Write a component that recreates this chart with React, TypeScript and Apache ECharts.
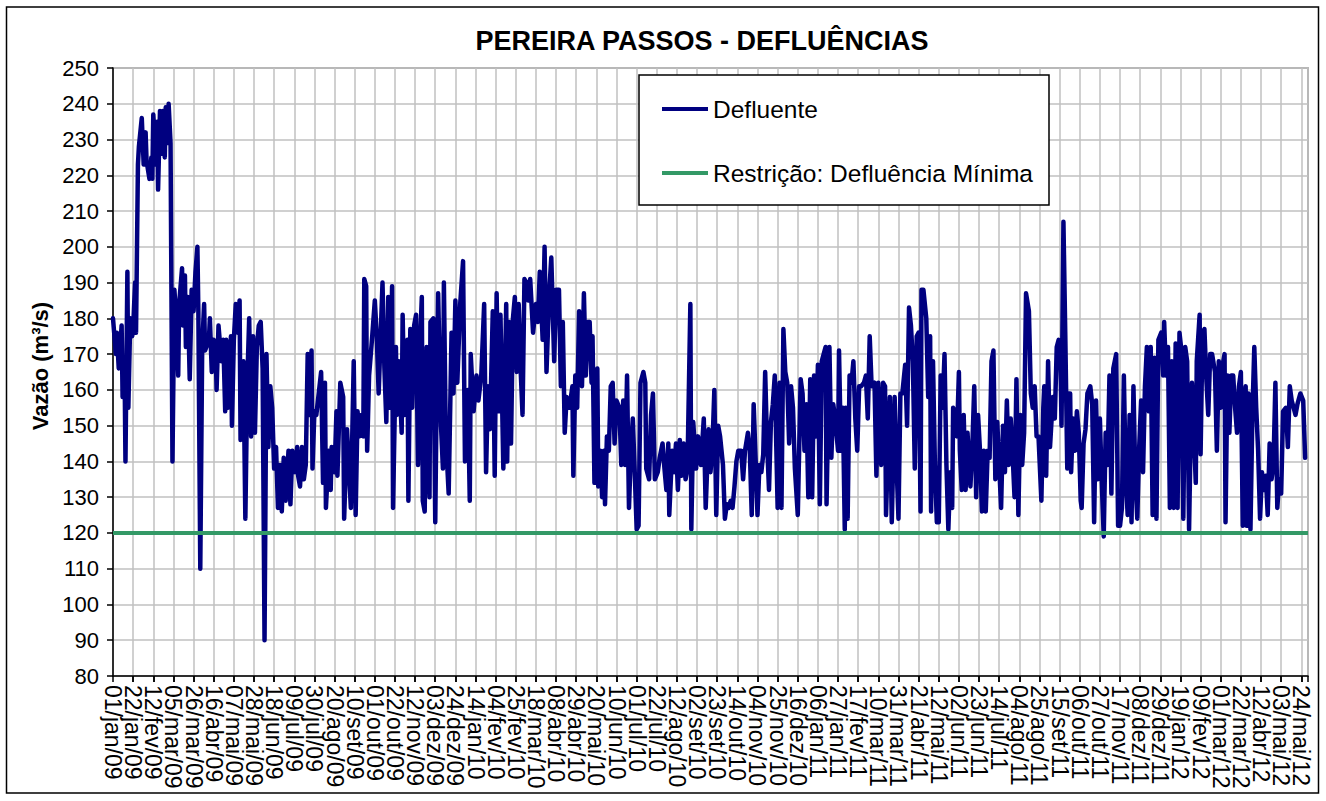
import React, { useEffect, useRef } from "react";
import * as echarts from "echarts";

// ---- Axis / categories ----
const tickLabels = [
  "01/jan/09", "22/jan/09", "12/fev/09", "05/mar/09", "26/mar/09", "16/abr/09", "07/mai/09", "28/mai/09",
  "18/jun/09", "09/jul/09", "30/jul/09", "20/ago/09", "10/set/09", "01/out/09", "22/out/09", "12/nov/09",
  "03/dez/09", "24/dez/09", "14/jan/10", "04/fev/10", "25/fev/10", "18/mar/10", "08/abr/10", "29/abr/10",
  "20/mai/10", "10/jun/10", "01/jul/10", "22/jul/10", "12/ago/10", "02/set/10", "23/set/10", "14/out/10",
  "04/nov/10", "25/nov/10", "16/dez/10", "06/jan/11", "27/jan/11", "17/fev/11", "10/mar/11", "31/mar/11",
  "21/abr/11", "12/mai/11", "02/jun/11", "23/jun/11", "14/jul/11", "04/ago/11", "25/ago/11", "15/set/11",
  "06/out/11", "27/out/11", "17/nov/11", "08/dez/11", "29/dez/11", "19/jan/12", "09/fev/12", "01/mar/12",
  "22/mar/12", "12/abr/12", "03/mai/12", "24/mai/12",
];
const tickStepDays = 21; // one label every 21 days
const lastDay = 1246; // 31/mai/12, days counted from 01/jan/09

// ---- Series: Defluente (day index since 01/jan/09, value in m³/s) ----
const flowDays = [
  0, 3, 4, 6, 9, 10, 12, 13, 15, 16, 18, 20, 21, 23, 24, 26, 27, 30, 32, 34, 35, 38, 40, 41, 42, 45, 46, 47, 49, 51,
  52, 54, 55, 57, 58, 60, 62, 64, 66, 68, 69, 72, 73, 75, 76, 78, 80, 82, 84, 86, 88, 89, 91, 93, 95, 96, 100, 101, 103, 105,
  107, 108, 110, 113, 115, 117,
  118, 120, 121, 123, 124, 126, 128, 130, 132, 133, 136, 138, 140, 142, 144, 146, 148, 150, 152, 154, 156, 158, 160, 162,
  164, 166, 168, 170, 172, 174, 176, 178, 180, 183, 185, 187, 190, 192, 193, 195, 197, 199, 201, 203, 205, 207, 208, 210,
  212, 217, 219, 221, 222, 225, 227, 228, 231, 233, 234, 237,
  240, 241, 244, 248, 251, 253, 255, 257, 259, 261, 262, 264, 265, 267, 270, 273, 275, 277, 281, 283, 285, 287, 289, 291,
  292, 295, 296, 298, 301, 302, 304, 307, 308, 310, 312, 314, 316, 318, 320, 322, 323, 325, 327, 330, 331, 334, 336, 337,
  339, 342, 344, 345, 347, 350, 353, 355, 357, 359, 362, 365, 367, 370, 372, 373,
  376, 379, 381, 384, 387, 389, 391, 393, 396, 398, 400, 402, 404, 407, 410, 411, 413, 415, 417, 419, 421, 423, 425, 427,
  429, 431, 433, 435, 438, 441, 443, 445, 448, 450, 452, 455, 457, 460, 462, 465, 467, 469, 471, 473, 476, 479, 480, 482,
  484, 486, 489, 491, 493, 495,
  497, 499, 500, 502, 505, 506, 508, 510, 512, 513, 515, 517, 519, 521, 523, 525, 528, 530, 532, 534, 536, 538, 540, 542,
  544, 546, 548, 550, 553, 555, 556, 559, 561, 563, 565, 568, 570, 573, 575, 577, 579, 580, 583, 585, 587, 589, 591, 593,
  595, 597, 599, 602, 603, 605, 608, 610, 613, 616, 618,
  621, 623, 625, 627, 629, 631, 633, 636, 638, 640, 642, 644, 646, 648, 650, 652, 655, 657, 659, 662, 664, 666, 668, 670,
  672, 674, 676, 678, 680, 682, 684, 686, 688, 690, 693, 695, 697, 699, 701, 703, 705, 707, 709, 711, 714, 717, 719, 721,
  723, 725, 727, 729, 731, 733, 735, 737, 739, 741,
  743, 744, 746, 747, 749, 751, 753, 756, 757, 759, 761, 763, 764, 766, 768, 770, 772, 774, 776, 778, 780, 783, 785, 787,
  789, 791, 794, 796, 798, 801, 803, 805, 806, 808, 810, 812, 815, 817, 819, 821, 823, 826, 828, 830, 832, 834, 836, 838,
  840, 842, 843, 845, 848, 850, 852, 853, 855, 857, 859, 861, 863, 865,
  867, 869, 871, 873, 875, 876, 878, 880, 882, 883, 885, 887, 889, 891, 894, 896, 898, 900, 902, 904, 906, 908, 910, 912,
  914, 916, 918, 920, 922, 924, 926, 928, 930, 932, 934, 936, 938, 940, 942, 944, 946, 948, 950, 952, 955, 957, 959, 961,
  963, 965, 968, 970, 971, 973, 975, 977, 980, 982, 984, 986, 988, 989, 991, 993, 995, 996,
  998, 999, 1001, 1003, 1005, 1007, 1009, 1010, 1012, 1014, 1016, 1019, 1021, 1023, 1025, 1027, 1029, 1031, 1033, 1035,
  1037, 1039, 1041, 1043, 1046, 1048, 1050, 1052, 1054, 1056, 1058, 1060, 1062, 1064, 1066, 1068, 1070, 1072, 1074, 1076,
  1078, 1080, 1082, 1084, 1086, 1088, 1090, 1093, 1095, 1096, 1098, 1100, 1102, 1104, 1106, 1108, 1110, 1112, 1114, 1116,
  1118, 1120, 1122, 1124, 1125, 1127, 1129, 1130, 1133, 1134, 1136, 1138, 1140, 1142, 1144, 1146, 1149, 1151, 1153, 1155,
  1157, 1159, 1160, 1162, 1164, 1166, 1168, 1170, 1172, 1174, 1176, 1178, 1179, 1181, 1182, 1184, 1186, 1188, 1190, 1192,
  1194, 1196, 1198, 1200, 1202, 1204, 1206, 1208, 1210, 1212, 1214, 1216, 1218, 1220, 1223, 1225, 1227, 1229, 1231, 1233,
  1235, 1238, 1241, 1243,
];
const flowValues = [
  180, 170, 176, 166, 178, 158, 168, 140, 193, 155, 180, 175, 177, 190, 176, 223, 228, 236, 223, 232, 224, 219, 225, 219, 237, 223, 235, 216, 238, 226,
  238, 225, 239, 229, 240, 229, 140, 188, 180, 164, 184, 194, 178, 192, 172, 186, 163, 188, 182, 193, 200, 182, 110, 172, 184, 171, 174, 180, 165, 174,
  172, 160, 178, 168, 174, 154,
  174, 155, 166, 175, 150, 174, 184, 176, 185, 146, 168, 124, 162, 180, 147, 175, 148, 172, 178, 179, 166, 90, 170, 144,
  161, 155, 138, 144, 127, 139, 126, 141, 129, 143, 128, 143, 137, 144, 136, 133, 144, 135, 139, 170, 153, 171, 138, 154,
  153, 165, 134, 162, 127, 143, 132, 144, 137, 154, 136, 162,
  158, 124, 149, 127, 168, 125, 154, 147, 153, 147, 191, 189, 143, 164, 174, 185, 175, 159, 190, 166, 151, 186, 155, 189,
  127, 172, 153, 168, 148, 181, 153, 174, 129, 177, 155, 178, 181, 139, 172, 186, 129, 126, 172, 130, 179, 180, 123, 147,
  187, 150, 138, 190, 147, 131, 176, 159, 185, 162, 184, 196, 140, 160, 129, 170,
  154, 164, 157, 164, 184, 137, 161, 149, 182, 136, 187, 154, 181, 138, 184, 140, 179, 145, 180, 186, 165, 184, 166, 153,
  191, 190, 185, 191, 176, 184, 179, 193, 174, 200, 165, 188, 197, 168, 188, 188, 161, 179, 148, 158, 155, 161, 136, 164,
  155, 182, 161, 187, 164, 179,
  179, 162, 175, 134, 166, 133, 143, 130, 143, 128, 147, 143, 161, 162, 145, 157, 155, 139, 157, 139, 164, 127, 143, 152,
  137, 121, 122, 162, 165, 162, 138, 135, 153, 159, 135, 137, 141, 145, 138, 132, 145, 125, 143, 137, 145, 132, 146, 136,
  145, 135, 138, 184, 121, 151, 138, 147, 139, 152, 127,
  149, 137, 144, 160, 125, 150, 147, 139, 124, 128, 127, 129, 127, 133, 140, 143, 143, 135, 143, 148, 143, 125, 156, 141,
  125, 139, 137, 142, 165, 145, 132, 151, 156, 164, 127, 162, 127, 177, 165, 162, 145, 161, 155, 138, 125, 163, 159, 143,
  156, 130, 163, 130, 164, 147, 167, 128, 168, 170,
  172, 128, 158, 172, 141, 156, 152, 143, 171, 143, 155, 121, 155, 124, 164, 162, 168, 152, 143, 161, 161, 162, 164, 152,
  175, 161, 162, 136, 162, 139, 162, 161, 125, 143, 158, 123, 158, 139, 124, 159, 159, 167, 150, 183, 178, 168, 138, 175,
  176, 126, 188, 188, 180, 158, 175, 126, 168, 139, 123, 123, 164, 155,
  170, 139, 121, 137, 127, 155, 154, 147, 165, 143, 132, 153, 132, 148, 133, 144, 161, 130, 153, 143, 126, 143, 126, 143,
  141, 168, 171, 135, 151, 139, 127, 150, 137, 157, 139, 152, 142, 130, 163, 125, 153, 139, 148, 187, 182, 159, 155, 161,
  147, 147, 129, 155, 161, 136, 168, 144, 158, 152, 172, 174, 167, 150, 207, 174, 138, 159,
  159, 137, 152, 143, 154, 148, 129, 127, 145, 149, 159, 161, 156, 123, 157, 135, 152, 134, 119, 148,
  139, 164, 131, 166, 170, 122, 122, 127, 164, 135, 125, 153, 123, 161, 135, 124, 144, 157, 137, 161,
  172, 154, 172, 125, 169, 124, 174, 176, 164, 179, 164, 172, 127, 168, 127, 173, 127, 176, 171, 124,
  172, 168, 121, 153, 162, 148, 134, 168, 181, 142, 176, 177, 163, 153, 170, 170, 165, 143, 168, 155,
  167, 170, 123, 164, 148, 164, 164, 155, 148, 161, 165, 122, 153, 161, 122, 159, 121, 153, 172, 155,
  143, 124, 137, 132, 136, 125, 145, 135, 139, 162, 127, 135, 131, 154, 155, 144, 161, 157, 155, 153,
  156, 159, 157, 141,
];

// ---- Series: restriction ----
const minRestrictionValue = 120;

const seriesNames = ["Defluente", "Restrição: Defluência Mínima"];
const titleText = "PEREIRA PASSOS - DEFLUÊNCIAS";
const yAxisTitle = "Vazão (m³/s)";

const FONT = "'Liberation Sans', Arial, sans-serif";

const labelText = (v: number) => {
  const i = Math.round(v / tickStepDays);
  return v % tickStepDays === 0 && i >= 0 && i < tickLabels.length ? tickLabels[i] : "";
};

export default function App() {
  const ref = useRef<HTMLDivElement>(null);

  useEffect(() => {
    if (!ref.current) return;
    const chart = echarts.init(ref.current, null, { renderer: "svg" });
    const flowData = flowDays.map((d, i) => [d, flowValues[i]]);
    const restrictionData = [
      [0, minRestrictionValue],
      [lastDay, minRestrictionValue],
    ];

    const labelStyle = {
      rotate: -90,
      margin: 9,
      fontSize: 23,
      color: "#000",
      fontFamily: FONT,
    };
    const tickStyle = { show: true, length: 6, lineStyle: { color: "#000", width: 1.5 } };

    chart.setOption({
      animation: false,
      backgroundColor: "#ffffff",
      textStyle: { fontFamily: FONT, color: "#000" },
      grid: {
        left: 113,
        top: 68,
        right: 18,
        bottom: 125,
        show: true,
        borderColor: "#808080",
        borderWidth: 1.5,
        backgroundColor: "transparent",
      },
      xAxis: [
        {
          // main date axis: all labels except the first one
          type: "value",
          position: "bottom",
          min: 0,
          max: lastDay,
          interval: tickStepDays,
          axisLine: { onZero: false, lineStyle: { color: "#000", width: 1.5 } },
          axisTick: tickStyle,
          axisLabel: {
            ...labelStyle,
            showMinLabel: false,
            showMaxLabel: true,
            formatter: (v: number) => (v === 0 ? "" : labelText(v)),
          },
          splitLine: { show: true, lineStyle: { color: "#c0c0c0", width: 1.5 } },
        },
        {
          // companion axis carrying only the first date label (01/jan/09)
          type: "value",
          position: "bottom",
          min: 0,
          max: lastDay,
          interval: tickStepDays,
          axisLine: { show: false, onZero: false },
          axisTick: tickStyle,
          axisLabel: {
            ...labelStyle,
            showMinLabel: true,
            showMaxLabel: false,
            formatter: (v: number) => (v === 0 ? labelText(v) : ""),
          },
          splitLine: { show: false },
        },
      ],
      yAxis: {
        type: "value",
        min: 80,
        max: 250,
        interval: 10,
        axisLine: { show: true, lineStyle: { color: "#000", width: 1.5 } },
        axisTick: tickStyle,
        axisLabel: { fontSize: 22, color: "#000", margin: 14, fontFamily: FONT },
        splitLine: { show: true, lineStyle: { color: "#c0c0c0", width: 1.5 } },
      },
      legend: {
        orient: "vertical",
        left: 662,
        top: 95,
        padding: 0,
        itemWidth: 46,
        itemHeight: 4,
        itemGap: 36,
        icon: "rect",
        textStyle: { fontSize: 24.5, color: "#000", lineHeight: 28, fontFamily: FONT },
        data: seriesNames,
        z: 10,
      },
      graphic: [
        {
          type: "rect",
          shape: { x: 6.5, y: 7, width: 1312, height: 786 },
          style: { fill: "none", stroke: "#000", lineWidth: 1.5 },
          z: 0,
          silent: true,
        },
        {
          type: "rect",
          shape: { x: 639, y: 75, width: 410, height: 130 },
          style: { fill: "#fff", stroke: "#000", lineWidth: 1.5 },
          z: 8,
          silent: true,
        },
        {
          type: "text",
          x: 702,
          y: 41,
          style: {
            text: titleText,
            fill: "#000",
            font: `bold 27px ${FONT}`,
            textAlign: "center",
            textVerticalAlign: "middle",
          },
          z: 10,
        },
        {
          type: "text",
          x: 40,
          y: 366,
          rotation: Math.PI / 2,
          style: {
            text: yAxisTitle,
            fill: "#000",
            font: `bold 22px ${FONT}`,
            textAlign: "center",
            textVerticalAlign: "middle",
          },
          z: 10,
        },
      ],
      series: [
        {
          name: seriesNames[0],
          type: "line",
          xAxisIndex: 0,
          data: flowData,
          showSymbol: false,
          symbol: "none",
          color: "#000080",
          lineStyle: { color: "#000080", width: 4.5, join: "round", cap: "round" },
          z: 3,
        },
        {
          name: seriesNames[1],
          type: "line",
          xAxisIndex: 0,
          data: restrictionData,
          showSymbol: false,
          symbol: "none",
          color: "#339966",
          lineStyle: { color: "#339966", width: 4 },
          z: 4,
        },
      ],
    });

    return () => chart.dispose();
  }, []);

  return (
    <div
      ref={ref}
      style={{ position: "fixed", left: 0, top: 0, width: 1326, height: 801, background: "#fff" }}
    />
  );
}
